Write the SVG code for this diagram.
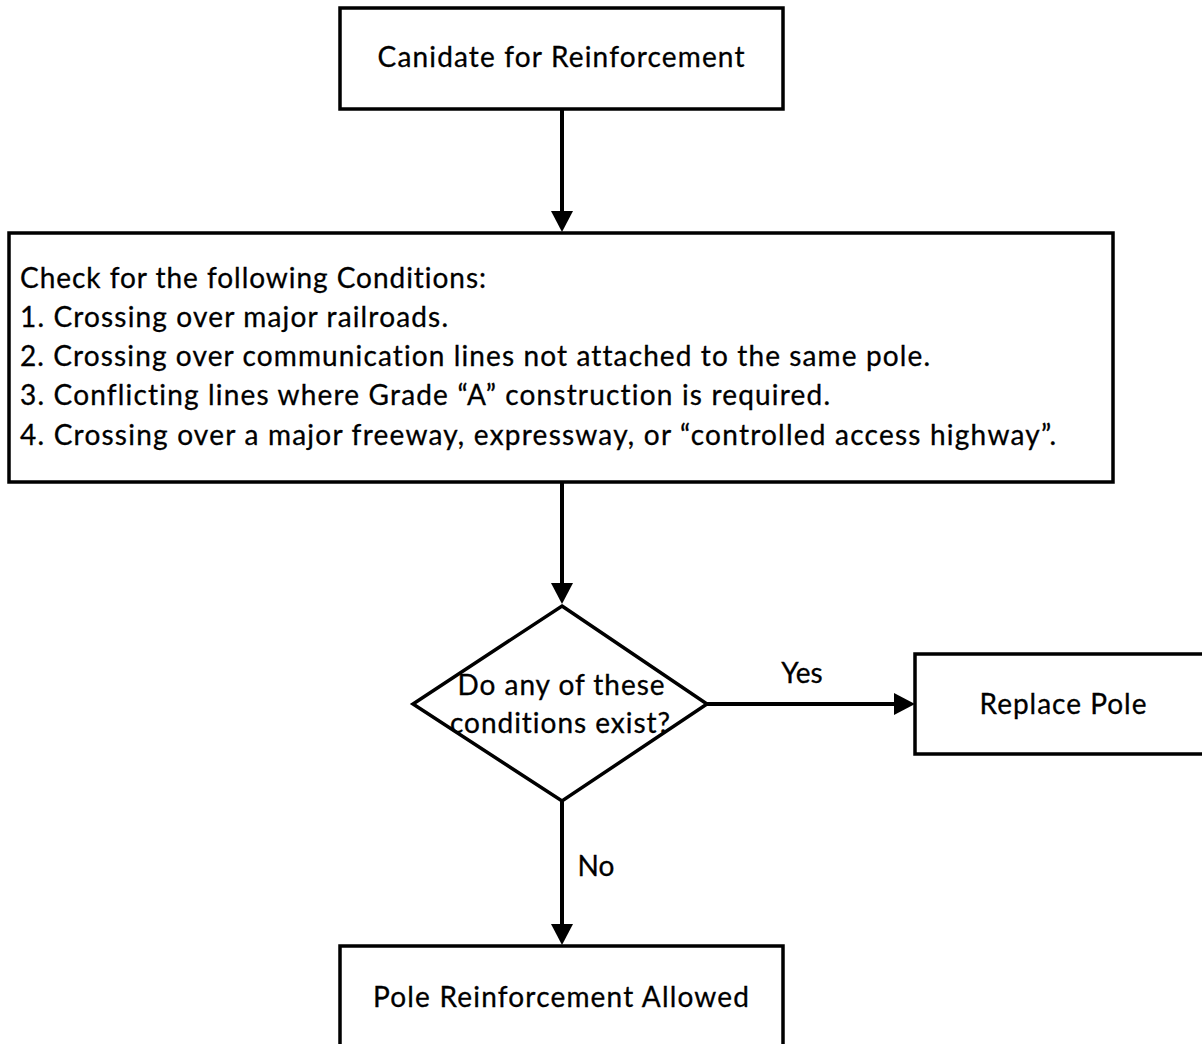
<svg xmlns="http://www.w3.org/2000/svg" width="1202" height="1044" viewBox="0 0 1202 1044">
<style>
.box{fill:#fff;stroke:#000;stroke-width:3.5}
.t{font-family:Lato,"Open Sans","Liberation Sans",sans-serif;font-size:28px;fill:#000;font-variant-ligatures:none;stroke:#000;stroke-width:0.3}
.c{text-anchor:middle}
.conn{stroke:#000;stroke-width:4;fill:none}
</style>
<defs>
<marker id="ah" markerUnits="userSpaceOnUse" markerWidth="22" markerHeight="24" refX="4" refY="12" orient="auto">
<path d="M0,1 L21,12 L0,23 Z" fill="#000"/>
</marker>
</defs>
<rect width="1202" height="1044" fill="#fff"/>
<g id="connectors">
<line class="conn" x1="562" y1="109" x2="562" y2="215" marker-end="url(#ah)"/>
<line class="conn" x1="562" y1="482" x2="562" y2="587" marker-end="url(#ah)"/>
<line class="conn" x1="707" y1="704" x2="898" y2="704" marker-end="url(#ah)"/>
<line class="conn" x1="562" y1="801" x2="562" y2="928" marker-end="url(#ah)"/>
<text class="t c" x="802" y="683">Yes</text>
<text class="t c" x="596" y="876">No</text>
</g>
<g id="candidate">
<rect class="box" x="340" y="8" width="443" height="101"/>
<text class="t c" x="561" y="67" textLength="367">Canidate for Reinforcement</text>
</g>
<g id="conditions">
<rect class="box" x="9" y="233" width="1104" height="249"/>
<text class="t" x="20" y="288" textLength="466">Check for the following Conditions:</text>
<text class="t" x="20" y="327" textLength="428">1. Crossing over major railroads.</text>
<text class="t" x="20" y="366" textLength="910">2. Crossing over communication lines not attached to the same pole.</text>
<text class="t" x="20" y="405" textLength="810">3. Conflicting lines where Grade “A” construction is required.</text>
<text class="t" x="20" y="445" textLength="1036">4. Crossing over a major freeway, expressway, or “controlled access highway”.</text>
</g>
<g id="decision">
<polygon class="box" points="562,606 707,704 562,801 413,704"/>
<text class="t c" x="561" y="695" textLength="207">Do any of these</text>
<text class="t c" x="560" y="733" textLength="220">conditions exist?</text>
</g>
<g id="replace">
<rect class="box" x="915" y="654" width="300" height="100"/>
<text class="t c" x="1063" y="714" textLength="167">Replace Pole</text>
</g>
<g id="allowed">
<rect class="box" x="340" y="946" width="443" height="110"/>
<text class="t c" x="561" y="1007" textLength="376">Pole Reinforcement Allowed</text>
</g>
</svg>
